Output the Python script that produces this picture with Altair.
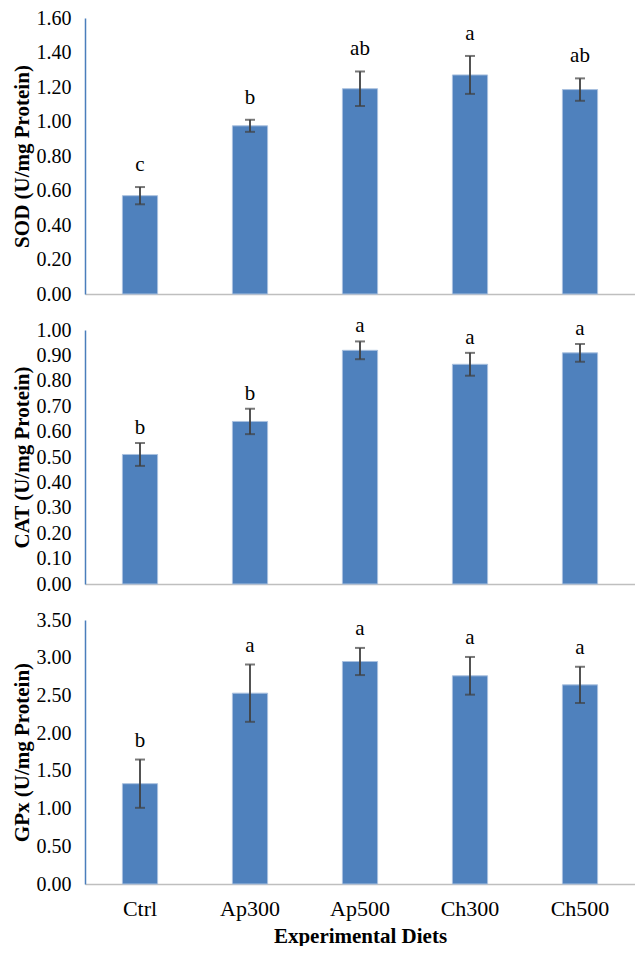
import altair as alt
import pandas as pd

diets = ["Ctrl", "Ap300", "Ap500", "Ch300", "Ch500"]

sod_mean = [0.57, 0.975, 1.19, 1.27, 1.185]
sod_err = [0.05, 0.035, 0.10, 0.11, 0.065]
sod_letters = ["c", "b", "ab", "a", "ab"]

cat_mean = [0.51, 0.64, 0.92, 0.865, 0.91]
cat_err = [0.045, 0.05, 0.035, 0.045, 0.035]
cat_letters = ["b", "b", "a", "a", "a"]

gpx_mean = [1.33, 2.53, 2.95, 2.76, 2.64]
gpx_err = [0.32, 0.38, 0.18, 0.25, 0.24]
gpx_letters = ["b", "a", "a", "a", "a"]

FONT = "Liberation Serif"
BAR = "#4f81bd"


def panel(title, means, errs, letters, ymax, ystep, height, show_x, dy):
    df = pd.DataFrame({
        "diet": diets,
        "mean": means,
        "lo": [m - e for m, e in zip(means, errs)],
        "hi": [m + e for m, e in zip(means, errs)],
        "letter": letters,
    })
    n = int(round(ymax / ystep))
    ticks = [round(i * ystep, 4) for i in range(n + 1)]
    xaxis = alt.Axis(
        labels=show_x, ticks=False, title="Experimental Diets" if show_x else None,
        domainColor="#bfbfbf", domainWidth=1.5, labelAngle=0, labelFont=FONT,
        labelFontSize=22, labelColor="#000", labelPadding=14,
        titleFont=FONT, titleFontSize=21, titleFontWeight="bold", titleColor="#000",
        titlePadding=6,
    )
    xscale = alt.Scale(paddingInner=0.68, paddingOuter=0.34)
    x = alt.X("diet:N", sort=diets, axis=xaxis, scale=xscale)
    yscale = alt.Scale(domain=[0, ymax], nice=False)
    yaxis = alt.Axis(
        values=ticks, format=".2f", grid=False, ticks=False, domainColor="#4a7ebb",
        domainWidth=1.5, labelFont=FONT, labelFontSize=20, labelColor="#000",
        labelPadding=14, labelOverlap=False, labelFlush=False,
        title=title, titleFont=FONT, titleFontSize=21,
        titleFontWeight="bold", titleColor="#000", titlePadding=4,
    )
    base = alt.Chart(df)
    bars = base.mark_bar(color=BAR, stroke="#a9c0df", strokeWidth=1).encode(
        x=x, y=alt.Y("mean:Q", scale=yscale, axis=yaxis)
    )
    rule = base.mark_rule(color="#404040", strokeWidth=1.8).encode(
        x=x, y=alt.Y("lo:Q", scale=yscale, axis=yaxis), y2="hi:Q"
    )
    cap_hi = base.mark_tick(color="#404040", thickness=2, size=10).encode(
        x=x, y=alt.Y("hi:Q", scale=yscale, axis=yaxis)
    )
    cap_lo = base.mark_tick(color="#404040", thickness=2, size=10).encode(
        x=x, y=alt.Y("lo:Q", scale=yscale, axis=yaxis)
    )
    text = base.mark_text(font=FONT, fontSize=21, color="#000", dy=dy).encode(
        x=x, y=alt.Y("hi:Q", scale=yscale, axis=yaxis), text="letter:N"
    )
    return alt.layer(bars, rule, cap_hi, cap_lo, text).properties(
        width=550, height=height
    )


p1 = panel("SOD (U/mg Protein)", sod_mean, sod_err, sod_letters, 1.6, 0.2, 276, False, -22)
p2 = panel("CAT (U/mg Protein)", cat_mean, cat_err, cat_letters, 1.0, 0.1, 254, False, -15)
p3 = panel("GPx  (U/mg Protein)", gpx_mean, gpx_err, gpx_letters, 3.5, 0.5, 264, True, -19)

chart = alt.vconcat(p1, p2, p3, spacing=36, bounds="flush").configure(
    padding={"left": 3, "top": 0, "right": 0, "bottom": 0}
).configure_view(stroke=None)

chart.save("out.html", embed_options={"renderer": "svg", "actions": False})
